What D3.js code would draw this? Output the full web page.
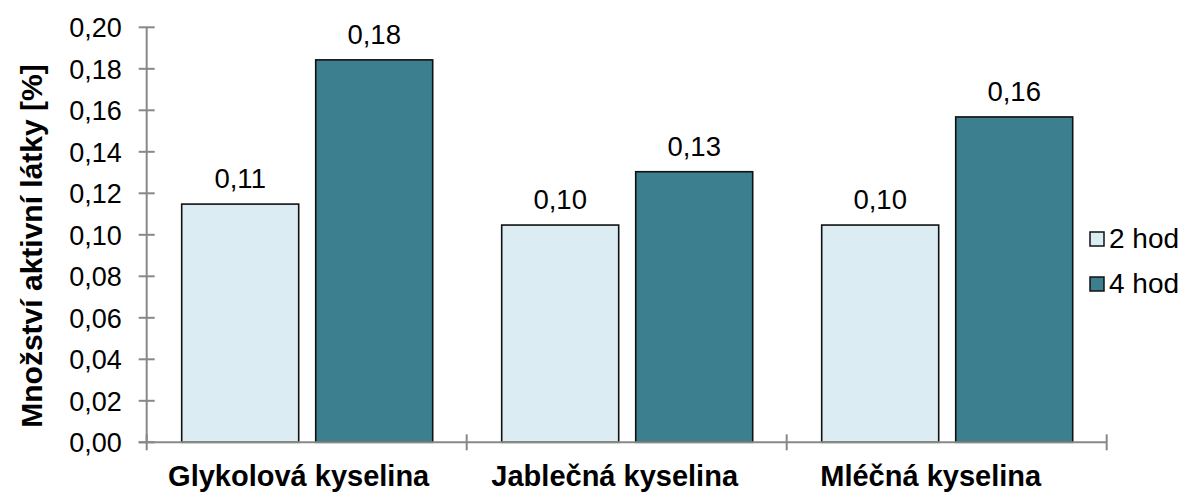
<!DOCTYPE html>
<html><head><meta charset="utf-8">
<script src="https://cdn.jsdelivr.net/npm/d3@7"></script>
<style>
html,body{margin:0;padding:0;background:#fff;}
svg{display:block;font-family:"Liberation Sans",Arial,sans-serif;}
</style></head>
<body>
<svg id="chart" width="1183" height="493"></svg>
<script>
const categories = ["Glykolová kyselina", "Jablečná kyselina", "Mléčná kyselina"];
const seriesNames = ["2 hod", "4 hod"];
const values2h = [0.1148, 0.1047, 0.1047];
const values4h = [0.1843, 0.1304, 0.1568];
const yTicks = [0, 0.02, 0.04, 0.06, 0.08, 0.10, 0.12, 0.14, 0.16, 0.18, 0.20];
const yTitle = "Množství aktivní látky [%]";
const colors = ["#dbedf3", "#3c7f8f"];

const svg = d3.select("#chart");
const pLeft = 146.7, pRight = 1106.7, pTop = 27.3, pBottom = 442.3;

const x = d3.scaleBand().domain(categories).range([pLeft, pRight]).padding(0);
const xs = d3.scaleBand().domain(seriesNames).range([35, 286]).paddingInner(0.127);
const y = d3.scaleLinear().domain([0, 0.20]).range([pBottom, pTop]);
const fmt = v => d3.format(".2f")(v).replace(".", ",");

const data = categories.map((c, i) => ({cat: c, vals: [values2h[i], values4h[i]]}));

// bars
const g = svg.append("g");
data.forEach(d => {
  d.vals.forEach((v, j) => {
    const bx = x(d.cat) + xs(seriesNames[j]);
    g.append("rect")
      .attr("x", bx).attr("y", y(v))
      .attr("width", xs.bandwidth()).attr("height", y(0) - y(v))
      .attr("fill", colors[j]).attr("stroke", "#111").attr("stroke-width", 1.6);
    g.append("text")
      .attr("x", bx + xs.bandwidth() / 2).attr("y", y(v) - 16)
      .attr("text-anchor", "middle").attr("font-size", 27.5).attr("fill", "#000")
      .text(fmt(v));
  });
});

// y axis
const yAxis = svg.append("g");
yAxis.append("line").attr("x1", pLeft).attr("x2", pLeft).attr("y1", pTop).attr("y2", pBottom)
  .attr("stroke", "#888").attr("stroke-width", 2);
yTicks.forEach(t => {
  yAxis.append("line").attr("x1", pLeft - 8).attr("x2", pLeft + 8).attr("y1", y(t)).attr("y2", y(t))
    .attr("stroke", "#888").attr("stroke-width", 2);
  yAxis.append("text").attr("x", pLeft - 25).attr("y", y(t)).attr("dy", "0.36em")
    .attr("text-anchor", "end").attr("font-size", 27).attr("fill", "#000").text(fmt(t));
});

// x axis
const xAxis = svg.append("g");
xAxis.append("line").attr("x1", pLeft - 8).attr("x2", pRight).attr("y1", pBottom).attr("y2", pBottom)
  .attr("stroke", "#888").attr("stroke-width", 2);
const xt = categories.map(c => x(c)).concat([pRight]);
xt.forEach(px => {
  xAxis.append("line").attr("x1", px).attr("x2", px).attr("y1", pBottom - 8).attr("y2", pBottom + 8)
    .attr("stroke", "#888").attr("stroke-width", 2);
});
categories.forEach((c, i) => {
  xAxis.append("text").attr("x", x(c) + x.bandwidth() / 2 - 8 - 4 * i).attr("y", 486)
    .attr("text-anchor", "middle").attr("font-size", 29).attr("font-weight", "bold")
    .attr("fill", "#000").text(c);
});

// y title
svg.append("text").attr("transform", "translate(42,246) rotate(-90)")
  .attr("text-anchor", "middle").attr("font-size", 30).attr("font-weight", "bold")
  .attr("fill", "#000").text(yTitle);

// legend
const leg = svg.append("g");
seriesNames.forEach((s, j) => {
  const ly = 232 + j * 45;
  leg.append("rect").attr("x", 1090).attr("y", ly).attr("width", 14).attr("height", 14)
    .attr("fill", colors[j]).attr("stroke", "#111").attr("stroke-width", 1.5);
  leg.append("text").attr("x", 1109).attr("y", ly + 16).attr("font-size", 28)
    .attr("fill", "#000").text(s);
});
</script>
</body></html>
